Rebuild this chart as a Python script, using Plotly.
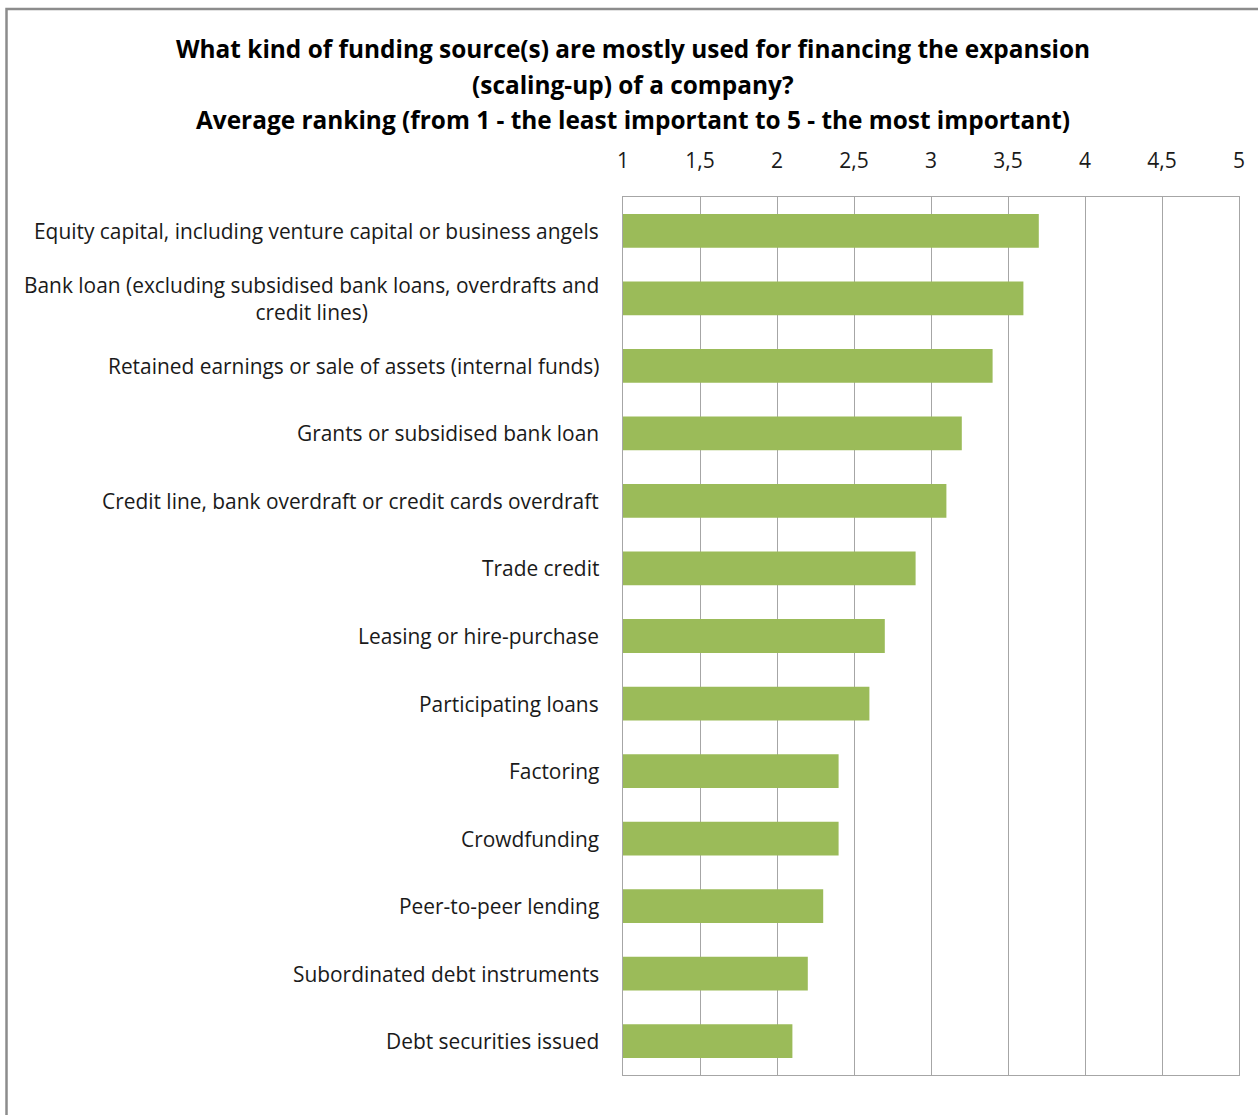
import plotly.graph_objects as go

categories = [
    "Equity capital, including venture capital or business angels",
    "Bank loan (excluding subsidised bank loans, overdrafts and<br>credit lines)",
    "Retained earnings or sale of assets (internal funds)",
    "Grants or subsidised bank loan",
    "Credit line, bank overdraft or credit cards overdraft",
    "Trade credit",
    "Leasing or hire-purchase",
    "Participating loans",
    "Factoring",
    "Crowdfunding",
    "Peer-to-peer lending",
    "Subordinated debt instruments",
    "Debt securities issued",
]
values = [3.7, 3.6, 3.4, 3.2, 3.1, 2.9, 2.7, 2.6, 2.4, 2.4, 2.3, 2.2, 2.1]
tick_vals = [1, 1.5, 2, 2.5, 3, 3.5, 4, 4.5, 5]
tick_text = ["1", "1,5", "2", "2,5", "3", "3,5", "4", "4,5", "5"]

title_lines = [
    "What kind of funding source(s) are mostly used for financing the expansion",
    "(scaling-up) of a company?",
    "Average ranking (from 1 - the least important to 5 - the most important)",
]

FONT = "Open Sans, Lato, sans-serif"

fig = go.Figure(go.Bar(
    x=[v - 1 for v in values],
    base=1,
    y=categories,
    orientation="h",
    marker=dict(color="#9BBB59", line=dict(width=0)),
    hoverinfo="x+y",
))

annotations = []
title_y = [1.1686, 1.1276, 1.0877]
for line, yy in zip(title_lines, title_y):
    annotations.append(dict(text="<b>" + line + "</b>", xref="paper", yref="paper",
                            x=0.016, y=yy, xanchor="center", yanchor="middle",
                            showarrow=False,
                            font=dict(size=24.4, family=FONT, color="#000000")))
for cat in categories:
    annotations.append(dict(text=cat, xref="paper", yref="y", x=-0.0357, y=cat,
                            xanchor="right", yanchor="middle", align="center",
                            showarrow=False,
                            font=dict(size=20.9, family=FONT, color="#1a1a1a")))

fig.update_layout(
    width=1258, height=1115,
    margin=dict(l=623, r=19, t=197, b=40),
    paper_bgcolor="white", plot_bgcolor="white",
    bargap=0.5,
    showlegend=False,
    font=dict(family=FONT, color="#000000"),
    xaxis=dict(side="top", range=[1, 5], tickvals=tick_vals, ticktext=tick_text,
               showgrid=True, gridcolor="#A6A6A6", gridwidth=1.3,
               showline=True, linecolor="#A6A6A6", linewidth=1.3, mirror=True,
               ticks="", tickfont=dict(size=21, color="#1a1a1a"), zeroline=False,
               ticklabelstandoff=19),
    yaxis=dict(autorange="reversed", showgrid=False, ticks="", showticklabels=False,
               showline=True, linecolor="#A6A6A6", linewidth=1.3, mirror=True),
    annotations=annotations,
    shapes=[dict(type="rect", xref="paper", yref="paper",
                 x0=-1.0008, x1=1.04, y0=-0.06, y1=1.2141,
                 line=dict(color="#8C8C8C", width=2.5), fillcolor="rgba(0,0,0,0)",
                 layer="below")],
)

fig.write_html("out.html")
